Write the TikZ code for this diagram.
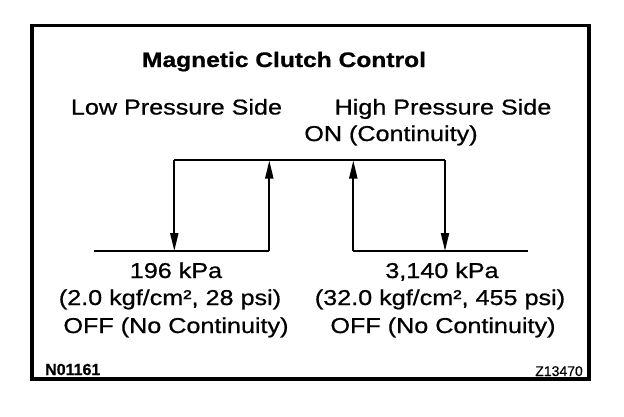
\documentclass[tikz,border=0pt]{standalone}
\usepackage{fontspec}
\setmainfont{Liberation Sans}[FakeStretch=1.17, FakeBold=0.8]
\newfontfamily\codefont{Liberation Sans}[FakeBold=0.6]
\usetikzlibrary{arrows.meta, positioning}

\begin{document}
\begin{tikzpicture}[x=1pt, y=-1pt,
  lbl/.style={anchor=base, inner sep=0pt, font=\fontsize{21.5}{25}\selectfont},
  switchline/.style={line width=2pt},
  switcharrow/.style={switchline, -{Triangle[length=18pt, width=8pt]}}]

\useasboundingbox (0,0) rectangle (624,416);

% Outer frame
\draw[line width=3.5pt] (32,25.5) rectangle (589,379);

% Headings
\node[lbl, font=\fontsize{21}{25}\selectfont\bfseries] (title) at (284,67) {Magnetic Clutch Control};
\node[lbl] (lowside)  at (176.5,114.5) {Low Pressure Side};
\node[lbl] (highside) at (443,114.5) {High Pressure Side};
\node[lbl] (onlabel)  at (391,141) {ON (Continuity)};

% Switching points
\coordinate (lowStart)  at (94,251);
\coordinate (lowOn)     at (174.3,159.5);   % top left corner
\coordinate (lowOff)    at (174.3,251);
\coordinate (lowUp)     at (269.3,251);
\coordinate (lowUpTop)  at (269.3,160.5);
\coordinate (highUp)    at (353.3,251);
\coordinate (highUpTop) at (353.3,160.5);
\coordinate (highOn)    at (445,159.5);     % top right corner
\coordinate (highOff)   at (445,251);
\coordinate (highEnd)   at (528.3,251);

% ON level and OFF levels
\draw[switchline] (lowOn) -- (highOn);
\draw[line width=2.5pt] (lowStart) -- (lowUp);
\draw[line width=2.5pt] (highUp) -- (highEnd);

% Hysteresis arrows
\draw[switcharrow] (lowOn) -- (lowOff);
\draw[switcharrow] (lowUp) -- (lowUpTop);
\draw[switcharrow] (highUp) -- (highUpTop);
\draw[switcharrow] (highOn) -- (highOff);

% Pressure values
\node[lbl] (lowkpa)  at (176,278) {196 kPa};
\node[lbl] (lowkgf)  at (170,305) {(2.0 kgf/cm², 28 psi)};
\node[lbl] (lowoff)  at (176,333) {OFF (No Continuity)};
\node[lbl] (highkpa) at (442,278) {3,140 kPa};
\node[lbl] (highkgf) at (440,305) {(32.0 kgf/cm², 455 psi)};
\node[lbl] (highoff) at (443,333) {OFF (No Continuity)};

% Figure codes
\node[anchor=base west, inner sep=0pt, font=\codefont\fontsize{16}{18}\selectfont\bfseries] (figno) at (45,375) {N01161};
\node[anchor=base east, inner sep=0pt, font=\codefont\fontsize{14}{16}\selectfont] (refno) at (583,376) {Z13470};

\end{tikzpicture}
\end{document}
